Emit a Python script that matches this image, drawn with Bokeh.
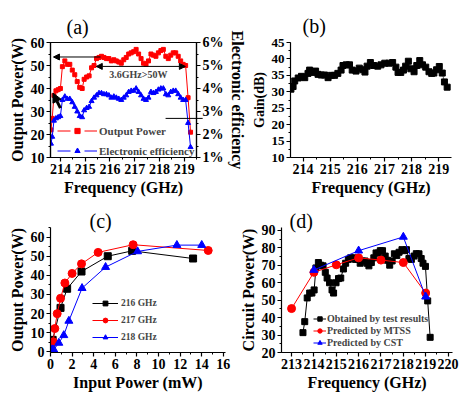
import math
from bokeh.plotting import figure
from bokeh.models import (Range1d, LinearAxis, FixedTicker, Arrow, NormalHead, Label,
                          Legend, LegendItem, CustomJSTickFormatter)
from bokeh.layouts import row, column
from bokeh.embed import file_html
from bokeh.resources import INLINE

FONT = "Liberation Serif"

# ---------------- data ----------------
# (a) output power (W) and electronic efficiency (%) vs frequency (GHz)
freq_a = [213.62, 213.67, 213.74, 213.82, 213.91, 214.0, 214.08, 214.18, 214.28, 214.38,
          214.48, 214.58, 214.68, 214.78, 214.88, 214.96, 215.06, 215.16, 215.26, 215.36,
          215.46, 215.56, 215.66, 215.76, 215.86, 215.96, 216.06, 216.16, 216.26, 216.36,
          216.46, 216.56, 216.66, 216.76, 216.86, 216.96, 217.06, 217.16, 217.26, 217.36,
          217.46, 217.56, 217.66, 217.76, 217.86, 217.96, 218.06, 218.16, 218.26, 218.36,
          218.46, 218.56, 218.66, 218.76, 218.86, 218.96, 219.06, 219.16, 219.26]
power_a = [22, 27, 37, 39, 39.5, 40, 49.5, 52, 50.5, 50.5,
           48, 46, 43, 40.5, 40, 44, 45, 45.5, 49, 50,
           53, 53.5, 54, 53.5, 53, 53, 52, 52.5, 52, 51.5,
           51, 52.5, 53.5, 55, 55.5, 56, 57, 55, 53, 51,
           50.5, 52, 55, 54.5, 54, 55.5, 56.5, 57, 54, 53,
           54.5, 55.5, 55.5, 54, 52, 50.5, 50, 36, 21]
eff_a = [1.6, 1.9, 2.6, 2.7, 2.75, 2.8, 3.5, 3.65, 3.55, 3.55,
         3.4, 3.2, 3.0, 2.8, 2.75, 3.05, 3.15, 3.2, 3.45, 3.6,
         3.7, 3.8, 3.8, 3.75, 3.75, 3.7, 3.6, 3.65, 3.6, 3.55,
         3.5, 3.6, 3.7, 3.85, 3.9, 3.9, 4.0, 3.85, 3.7, 3.55,
         3.5, 3.6, 3.85, 3.8, 3.85, 3.95, 4.0, 4.0, 3.75, 3.7,
         3.85, 3.9, 3.9, 3.75, 3.6, 3.5, 3.5, 2.5, 1.45]

# (b) gain (dB) vs frequency (GHz)
freq_b = [213.55, 213.63, 213.69, 213.82, 213.94, 214.06, 214.18, 214.24, 214.37, 214.46,
          214.55, 214.67, 214.79, 214.92, 215.04, 215.16, 215.28, 215.40, 215.47, 215.59,
          215.71, 215.81, 215.95, 216.07, 216.20, 216.28, 216.36, 216.48, 216.60, 216.75,
          216.87, 217.01, 217.17, 217.30, 217.42, 217.50, 217.60, 217.70, 217.78, 217.88,
          217.97, 218.09, 218.19, 218.30, 218.40, 218.52, 218.64, 218.74, 218.82, 218.92,
          219.02, 219.13, 219.21, 219.31]
gain_b = [30.8, 31.6, 33.3, 34.2, 34.7, 34.3, 35.6, 36.6, 35.9, 36.3,
          35.3, 35.1, 35.1, 34.3, 35.0, 35.0, 35.6, 36.6, 38.0, 38.2,
          38.2, 36.6, 36.3, 37.2, 36.7, 36.0, 37.8, 38.9, 38.0, 37.8,
          38.2, 38.7, 38.7, 38.9, 37.5, 35.9, 35.9, 36.6, 37.8, 39.3,
          37.0, 36.1, 38.0, 39.5, 38.2, 37.5, 36.1, 35.6, 35.7, 36.7,
          37.7, 35.7, 33.0, 31.4]

# (c) output power (W) vs input power (mW)
pin_216 = [0.08, 0.2, 0.93, 1.54, 2.87, 5.3, 7.56, 13.2]
pout_216 = [3, 6.3, 23, 33, 42, 50, 52.8, 48.8]
pin_217 = [0.25, 0.4, 0.62, 0.93, 1.33, 2.0, 2.87, 4.41, 7.65, 14.6]
pout_217 = [5.3, 12.2, 20, 28, 36, 41, 46, 52, 56, 53]
pin_218 = [0.15, 0.3, 0.77, 1.23, 1.7, 2.92, 5.1, 8.06, 11.7, 14.0]
pout_218 = [1.3, 1.2, 4.7, 8.7, 16.2, 33.3, 44.3, 52.5, 55.8, 55.8]

# (d) circuit power (W) vs frequency (GHz)
freq_test = [213.51, 213.59, 213.7, 213.81, 213.91, 214.01, 214.09, 214.2, 214.3, 214.41,
             214.51, 214.59, 214.7, 214.81, 214.88, 214.99, 215.1, 215.2, 215.32, 215.42,
             215.54, 215.64, 215.75, 215.86, 215.97, 216.07, 216.17, 216.28, 216.38, 216.46,
             216.57, 216.68, 216.78, 216.88, 216.97, 217.07, 217.19, 217.29, 217.39, 217.5,
             217.6, 217.71, 217.81, 217.94, 218.04, 218.14, 218.25, 218.36, 218.48, 218.58,
             218.7, 218.8, 218.88, 218.99, 219.09, 219.2]
pcirc_test = [31.4, 37.7, 51.3, 54.1, 54.1, 55.9, 68.5, 71.6, 70.1, 69.7,
              66, 62.7, 60, 55.9, 54.1, 60, 62.4, 62.7, 67.9, 71.2,
              73.4, 74.3, 74.3, 73.4, 73.4, 71.2, 72.5, 72.5, 71.2, 69.7,
              71.6, 74.3, 77.1, 77.1, 78.4, 78.4, 75.3, 72.9, 70.1, 72.5,
              76.6, 75.6, 77.5, 79, 78.4, 79, 73.9, 73.4, 75.3, 76.7,
              76.6, 73.9, 71.2, 69.4, 49.6, 28.7]
freq_mtss = [213, 214, 215, 216, 217, 218, 219]
pcirc_mtss = [45.2, 66, 70.3, 74.3, 73, 71.6, 54.1]
freq_cst = [214, 216, 218, 219]
pcirc_cst = [67.3, 78.4, 86.3, 52]

RED = "#ff0000"
BLUE = "#0000ff"
NAN = [math.nan]


def style_axis(ax, tick_size="14px", label_size="16px"):
    ax.axis_line_width = 1.2
    ax.axis_line_color = "black"
    ax.major_tick_line_width = 1.2
    ax.minor_tick_line_width = 1
    ax.major_tick_out = 4
    ax.major_tick_in = 0
    ax.minor_tick_out = 2
    ax.minor_tick_in = 0
    ax.major_label_text_font = FONT
    ax.major_label_text_font_style = "bold"
    ax.major_label_text_font_size = tick_size
    ax.major_label_text_color = "black"
    ax.axis_label_text_font = FONT
    ax.axis_label_text_font_style = "bold"
    ax.axis_label_text_font_size = label_size
    ax.axis_label_text_color = "black"
    ax.axis_label_standoff = 2
    ax.major_label_standoff = 2


def make_fig(w, h, xr, yr, l, r, t, b, title, offset, standoff):
    p = figure(width=w, height=h, x_range=xr, y_range=yr, output_backend="svg",
               toolbar_location=None, min_border_left=l, min_border_right=r,
               min_border_top=t, min_border_bottom=b, title=title)
    p.grid.visible = False
    p.outline_line_color = None
    p.background_fill_color = "white"
    p.border_fill_color = "white"
    p.title.text_font = FONT
    p.title.text_font_size = "20px"
    p.title.text_font_style = "normal"
    p.title.text_color = "black"
    p.title.align = "left"
    p.title.offset = offset
    p.title.standoff = standoff
    return p


def frange(a, b, s):
    out = []
    v = a
    while v <= b + 1e-9:
        out.append(round(v, 6))
        v += s
    return out


# ---------------- (a) ----------------
pa = make_fig(248, 201, Range1d(213.6, 219.5), Range1d(10, 60), 50, 51, 40, 44, "(a)", 16, 10)
pa.outline_line_color = "black"
pa.outline_line_width = 1.2
pa.extra_y_ranges = {"eff": Range1d(1, 6)}
pa.xaxis.ticker = FixedTicker(ticks=frange(214, 219, 1), minor_ticks=frange(213.5, 219.5, 0.5))
pa.yaxis.ticker = FixedTicker(ticks=frange(10, 60, 10), minor_ticks=frange(10, 60, 5))
pa.xaxis.axis_label = "Frequency (GHz)"
pa.yaxis.axis_label = "Output Power(W)"
ax_r = LinearAxis(y_range_name="eff", axis_label="Electronic efficiency",
                  ticker=FixedTicker(ticks=frange(1, 6, 1), minor_ticks=frange(1, 6, 0.5)),
                  formatter=CustomJSTickFormatter(code="return tick.toFixed(0) + '%';"))
pa.add_layout(ax_r, "right")
for ax in [pa.xaxis[0], pa.yaxis[0], ax_r]:
    style_axis(ax)

pa.line(freq_a, power_a, line_color=RED, line_width=1)
ra = pa.scatter(freq_a, power_a, marker="square", size=4, fill_color=RED, line_color=RED)
pa.line(freq_a, eff_a, y_range_name="eff", line_color=BLUE, line_width=1)
rb = pa.scatter(freq_a, eff_a, y_range_name="eff", marker="triangle", size=5,
                fill_color=BLUE, line_color=BLUE)
da = pa.line(NAN, NAN, line_color=RED, line_width=1, line_dash="13 14")
db = pa.line(NAN, NAN, line_color=BLUE, line_width=1, line_dash="13 14")
leg_a = Legend(items=[LegendItem(label="Output Power", renderers=[da, ra]),
                      LegendItem(label="Electronic efficiency", renderers=[db, rb])],
               location=(7, 0), glyph_width=40, glyph_height=13, label_height=13,
               spacing=7, padding=0, margin=0, label_standoff=2,
               label_text_font=FONT, label_text_font_style="bold", label_text_font_size="11px",
               background_fill_alpha=0, border_line_color=None)
pa.add_layout(leg_a)

head = dict(size=6, fill_color="black", line_color="black")
pa.add_layout(Arrow(end=NormalHead(**head), x_start=215.62, y_start=53.7, x_end=213.72,
                    y_end=53.7, line_width=1, line_color="black"))
pa.add_layout(Arrow(start=NormalHead(**head), end=NormalHead(**head), x_start=215.45,
                    y_start=49.6, x_end=219.05, y_end=49.6, line_width=1, line_color="black"))
pa.add_layout(Arrow(end=NormalHead(**head), x_start=218.25, y_start=27, x_end=219.75,
                    y_end=27, line_width=1, line_color="black"))
pa.add_layout(Arrow(end=NormalHead(size=9, fill_color="black", line_color="black"),
                    x_start=214.0, y_start=31.5, x_end=213.7, y_end=38, line_width=3,
                    line_color="black"))
pa.add_layout(Label(x=217.15, y=46, text="3.6GHz>50W", text_font=FONT, text_font_size="10px",
                    text_font_style="bold", text_align="center", text_baseline="middle"))

# ---------------- (b) ----------------
pb = make_fig(211, 201, Range1d(213.535, 219.47), Range1d(10, 45), 41, 8, 42, 37, "(b)", 12, 11)
pb.xaxis.ticker = FixedTicker(ticks=frange(214, 219, 1), minor_ticks=frange(213.5, 219.5, 0.5))
pb.yaxis.ticker = FixedTicker(ticks=frange(10, 45, 5), minor_ticks=frange(10, 45, 2.5))
pb.xaxis.axis_label = "Frequency (GHz)"
pb.yaxis.axis_label = "Gain(dB)"
style_axis(pb.xaxis[0], "14px", "16px")
style_axis(pb.yaxis[0], "13px", "14px")
pb.line(freq_b, gain_b, line_color="#444444", line_width=0.8)
pb.scatter(freq_b, gain_b, marker="square", size=6, fill_color="black", line_color="black")

# ---------------- (c) ----------------
pc = make_fig(236, 192, Range1d(0, 16.2), Range1d(-0.3, 65), 50, 11, 25, 37, "(c)", 39, -9)
pc.xaxis.ticker = FixedTicker(ticks=frange(0, 16, 2), minor_ticks=frange(0, 16, 1))
pc.yaxis.ticker = FixedTicker(ticks=frange(0, 60, 10), minor_ticks=frange(0, 65, 5))
pc.xaxis.axis_label = "Input Power (mW)"
pc.yaxis.axis_label = "Output Power(W)"
style_axis(pc.xaxis[0])
style_axis(pc.yaxis[0])
l1 = pc.line(pin_216, pout_216, line_color="black", line_width=1)
s1 = pc.scatter(pin_216, pout_216, marker="square", size=7, fill_color="black", line_color="black")
l2 = pc.line(pin_217, pout_217, line_color=RED, line_width=1)
s2 = pc.scatter(pin_217, pout_217, marker="circle", size=8, fill_color=RED, line_color=RED)
l3 = pc.line(pin_218, pout_218, line_color=BLUE, line_width=1)
s3 = pc.scatter(pin_218, pout_218, marker="triangle", size=8, fill_color=BLUE, line_color=BLUE)
leg_c = Legend(items=[LegendItem(label="216 GHz", renderers=[l1, s1]),
                      LegendItem(label="217 GHz", renderers=[l2, s2]),
                      LegendItem(label="218 GHz", renderers=[l3, s3])],
               location=(42, 9), glyph_width=26, glyph_height=12, label_height=12,
               spacing=5, padding=0, margin=0, label_standoff=3,
               label_text_font=FONT, label_text_font_style="bold", label_text_font_size="9.5px",
               background_fill_alpha=0, border_line_color=None)
pc.add_layout(leg_c)

# ---------------- (d) ----------------
pd = make_fig(223, 192, Range1d(212.55, 220.2), Range1d(20, 91.7), 41, 7, 26, 37, "(d)", 8, -8)
pd.xaxis.ticker = FixedTicker(ticks=frange(213, 220, 1), minor_ticks=frange(212.5, 220, 0.5))
pd.yaxis.ticker = FixedTicker(ticks=frange(20, 90, 10), minor_ticks=frange(20, 90, 5))
pd.xaxis.axis_label = "Frequency (GHz)"
pd.yaxis.axis_label = "Circuit Power(W)"
style_axis(pd.xaxis[0])
style_axis(pd.yaxis[0])
m1 = pd.line(freq_test, pcirc_test, line_color="black", line_width=1)
n1 = pd.scatter(freq_test, pcirc_test, marker="square", size=6, fill_color="black", line_color="black")
m2 = pd.line(freq_mtss, pcirc_mtss, line_color=RED, line_width=1)
n2 = pd.scatter(freq_mtss, pcirc_mtss, marker="circle", size=8, fill_color=RED, line_color=RED)
m3 = pd.line(freq_cst, pcirc_cst, line_color=BLUE, line_width=1)
n3 = pd.scatter(freq_cst, pcirc_cst, marker="triangle", size=8, fill_color=BLUE, line_color=BLUE)
leg_d = Legend(items=[LegendItem(label="Obtained by test results", renderers=[m1, n1]),
                      LegendItem(label="Predicted by MTSS", renderers=[m2, n2]),
                      LegendItem(label="Predicted by CST", renderers=[m3, n3])],
               location=(32, 4), glyph_width=13, glyph_height=11, label_height=11,
               spacing=1, padding=0, margin=0, label_standoff=1,
               label_text_font=FONT, label_text_font_style="bold", label_text_font_size="10px",
               background_fill_alpha=0, border_line_color=None)
pd.add_layout(leg_d)

layout = column(row(pa, pb), row(pc, pd))
open("out.html", "w").write(file_html(layout, INLINE))
